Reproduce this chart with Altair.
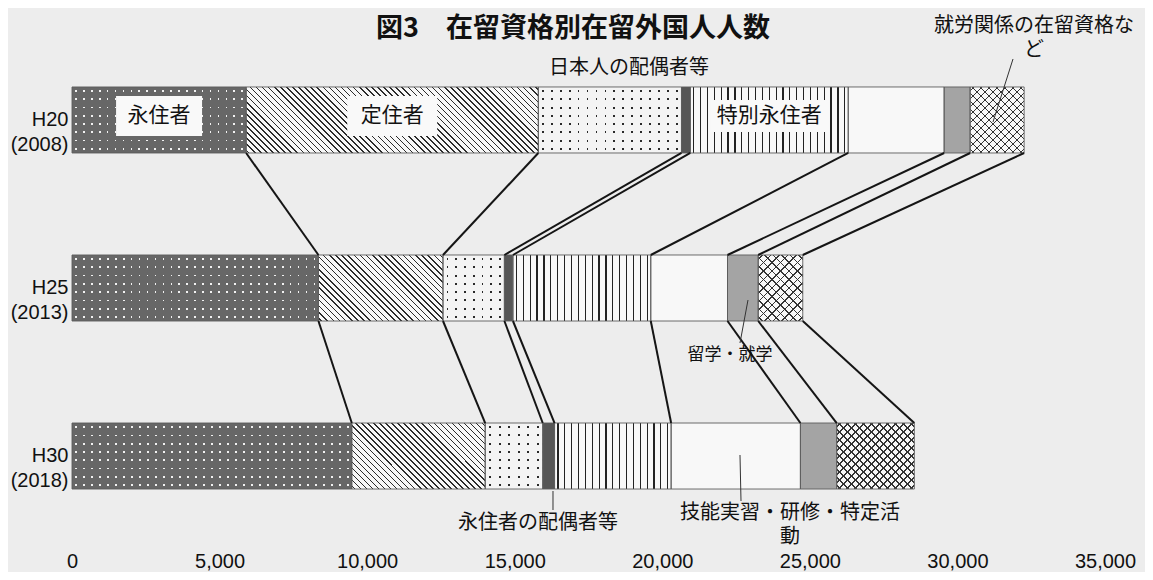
import math
import json
import altair as alt
import pandas as pd

# ---------------- data ----------------
years = ["H20 (2008)", "H25 (2013)", "H30 (2018)"]
categories = ["永住者", "定住者", "日本人の配偶者等", "永住者の配偶者等", "特別永住者",
              "技能実習・研修・特定活動", "留学・就学", "就労関係の在留資格など"]
h20_values = [5900, 9900, 4850, 300, 5350, 3250, 880, 1830]
h25_values = [8350, 4220, 2080, 290, 4670, 2600, 1040, 1510]
h30_values = [9480, 4520, 1950, 400, 3950, 4380, 1230, 2630]
x_tick_values = [0, 5000, 10000, 15000, 20000, 25000, 30000, 35000]
title_text = "図3　在留資格別在留外国人人数"

# ---------------- tables built from the arrays ----------------
rows = []
for yr, vals in zip(years, [h20_values, h25_values, h30_values]):
    acc = 0
    for cat, v in zip(categories, vals):
        rows.append({"year": yr, "cat": cat, "start": acc, "end": acc + v, "mid": acc + v / 2})
        acc += v
seg = pd.DataFrame(rows)

conn_rows = []
for a, b in zip(years[:-1], years[1:]):
    ea = seg[seg.year == a]["end"].tolist()
    eb = seg[seg.year == b]["end"].tolist()
    for xa, xb in zip(ea, eb):
        conn_rows.append({"src": a, "dst": b, "xa": xa, "xb": xb})
conn = pd.DataFrame(conn_rows)

# ---------------- layout / style ----------------
W, H = 1033, 436
XMAX = 35000
PXU = W / XMAX
BAND = 66
JP = "Noto Sans CJK JP"
NUMF = "Liberation Sans"
BG = "#ededed"
WHITE = "#f8f8f8"
CLEAR = "rgba(255,255,255,0)"

xs = alt.Scale(domain=[0, XMAX], nice=False, zero=False)
ys = alt.Scale(domain=years, paddingInner=0.607, paddingOuter=0.101)
ax_x = alt.Axis(values=x_tick_values, labelExpr="format(datum.value, ',')", title=None,
                domain=False, ticks=False, grid=False, labelPadding=45, labelFontSize=20,
                labelFont=NUMF, labelColor="#111", labelFlush=False)
ax_y = alt.Axis(title=None, domain=False, ticks=False, grid=False,
                labelExpr="split(datum.label, ' ')", labelPadding=4, labelFontSize=20,
                labelFont=NUMF, labelColor="#111", labelLineHeight=25,
                labelAlign="right", labelBaseline="middle")


def X(f):
    return alt.X(f"{f}:Q", scale=xs, axis=ax_x)


def Y(f="year"):
    return alt.Y(f"{f}:N", scale=ys, axis=ax_y, sort=years)


def XD(v):
    return alt.X(datum=v, type="quantitative", scale=xs, axis=ax_x)


def YD(v):
    return alt.Y(datum=v, type="nominal", scale=ys, axis=ax_y)


def stops_for(n, duty, on, off):
    out = [{"offset": 0, "color": off}]
    for k in range(n):
        a = round((k + 0.5 - duty / 2) / n, 5)
        b = round((k + 0.5 + duty / 2) / n, 5)
        out += [{"offset": a, "color": off}, {"offset": a, "color": on},
                {"offset": b, "color": on}, {"offset": b, "color": off}]
    out.append({"offset": 1, "color": off})
    return out


def grad(x1, y1, x2, y2, stops):
    return {"gradient": "linear", "x1": x1, "y1": y1, "x2": x2, "y2": y2, "stops": stops}


def hgrad(w, period, duty, on, off):
    n = max(1, round(w / period))
    return grad(0, 0, 1, 0, stops_for(n, duty, on, off))


def vgrad(h, period, duty, on, off):
    n = max(1, round(h / period))
    return grad(0, 0, 0, 1, stops_for(n, duty, on, off))


def diag(w, h, spacing, lw, color, back=True):
    k = (w + h) / (w * w + h * h)
    L = (w + h) / math.sqrt(2)
    n = max(1, round(L / spacing))
    st = stops_for(n, lw / (L / n), color, CLEAR)
    if back:
        return grad(0, 1, k * w, 1 - k * h, st)
    return grad(0, 0, k * w, k * h, st)


def expr_eq(field, value):
    return f"datum.{field} === {json.dumps(value, ensure_ascii=False)}"


def seg_layer(fill, cat, year=None):
    pred = expr_eq("cat", cat)
    if year is not None:
        pred += " && " + expr_eq("year", year)
    return (alt.Chart(seg).transform_filter(pred)
            .mark_bar(fill=fill, strokeWidth=0)
            .encode(x=X("start"), x2=alt.X2("end"), y=Y()))


def width_px(year, cat):
    r = seg[(seg.year == year) & (seg.cat == cat)].iloc[0]
    return (r["end"] - r["start"]) * PXU


# base colours (for dotted patterns this is the dot colour)
base_colors = ["#f2f2f2", WHITE, "#2a2a2a", "#565656", WHITE, WHITE, "#a4a4a4", WHITE]
base = alt.Chart(seg).mark_bar(strokeWidth=0).encode(
    x=X("start"), x2=alt.X2("end"), y=Y(),
    fill=alt.Fill("cat:N", scale=alt.Scale(domain=categories, range=base_colors), legend=None),
)
layers = [base]

# dotted patterns: background with transparent rows, then background with transparent columns
dots = {categories[0]: ("#676767", 8, 8, 1.7), categories[2]: ("#f4f4f4", 9, 8, 1.8)}
for cat, (bgc, px, py, gap) in dots.items():
    layers.append(seg_layer(vgrad(BAND, py, gap / py, CLEAR, bgc), cat))
    for yr in years:
        layers.append(seg_layer(hgrad(width_px(yr, cat), px, gap / px, CLEAR, bgc), cat, yr))

for yr in years:
    # 定住者: dense back-diagonal hatching
    w = width_px(yr, categories[1])
    layers.append(seg_layer(diag(w, BAND, 4.3, 1.1, "#2b2b2b", back=True), categories[1], yr))
    # 特別永住者: vertical lines
    w = width_px(yr, categories[4])
    layers.append(seg_layer(hgrad(w, 6.8, 1.2 / 6.8, "#222222", CLEAR), categories[4], yr))
    # 就労関係: cross-hatching
    w = width_px(yr, categories[7])
    layers.append(seg_layer(diag(w, BAND, 5.8, 1.1, "#333333", back=True), categories[7], yr))
    layers.append(seg_layer(diag(w, BAND, 5.8, 1.1, "#333333", back=False), categories[7], yr))

# outlines
layers.append(alt.Chart(seg).mark_bar(fill="transparent", stroke="#5c5c5c", strokeWidth=0.9).encode(
    x=X("start"), x2=alt.X2("end"), y=Y()))

# connectors between bars
layers.append(alt.Chart(conn).mark_rule(color="#151515", strokeWidth=2, yOffset=BAND / 2,
                                        y2Offset=-BAND / 2).encode(
    x=X("xa"), x2=alt.X2("xb"), y=Y("src"), y2=alt.Y2("dst")))

# white label boxes + labels inside the H20 bar
inner = [categories[0], categories[1], categories[4]]
box_paths = ["M-0.86,-0.4H0.86V0.4H-0.86Z", "M-0.9,-0.4H0.9V0.4H-0.9Z",
             "M-1.18,-0.32H1.18V0.32H-1.18Z"]
inner_pred = expr_eq("year", years[0]) + " && indexof(" + json.dumps(inner, ensure_ascii=False) + ", datum.cat) >= 0"
inner_src = alt.Chart(seg).transform_filter(inner_pred)
layers.append(inner_src.mark_point(filled=True, size=10000, opacity=1, fill="#f9f9f9",
                                   strokeWidth=0, yOffset=-4).encode(
    x=X("mid"), y=Y(),
    shape=alt.Shape("cat:N", scale=alt.Scale(domain=inner, range=box_paths), legend=None)))
layers.append(inner_src.mark_text(font=JP, fontSize=21, color="#111", yOffset=-4,
                                  baseline="middle").encode(
    x=X("mid"), y=Y(), text="cat:N"))

# annotations (dy = offset of the first text line from the bar centre)
one = pd.DataFrame({"k": [0]})


def ann_text(txt, year, xv, dy, size=20, lh=25, weight="normal"):
    return alt.Chart(one).mark_text(text=txt, font=JP, fontSize=size, color="#111",
                                    lineBreak="\n", lineHeight=lh, dy=dy, fontWeight=weight,
                                    baseline="middle").encode(x=XD(xv), y=YD(year))


def leader(year, xa, xb, oa, ob):
    return alt.Chart(one).mark_rule(color="#333", strokeWidth=1, yOffset=oa,
                                    y2Offset=ob).encode(
        x=XD(xa), x2=alt.X2(datum=xb), y=YD(year), y2=alt.Y2(datum=year))


layers += [
    ann_text(title_text, years[0], 16975, -91, size=27, weight="bold"),
    ann_text("日本人の配偶者等", years[0], 18872, -52),
    ann_text("就労関係の在留資格な\nど", years[0], 32594, -94, lh=24),
    leader(years[0], 31883, 31205, -61, 2),
    ann_text("留学・就学", years[1], 22294, 67, size=17),
    leader(years[1], 22633, 22904, 55, 12),
    ann_text("永住者の配偶者等", years[2], 15789, 67),
    leader(years[2], 16297, 16297, 35, 54),
    ann_text("技能実習・研修・特定活\n動", years[2], 24327, 57, lh=24),
    leader(years[2], 22633, 22667, -1, 45),
]

chart = alt.layer(*layers).properties(
    width=W, height=H,
    background=BG,
    padding={"left": 64, "top": 62, "right": 40, "bottom": 66},
    autosize=alt.AutoSizeParams(type="none"),
).configure_view(stroke=None)

chart.save("out.html", embed_options={"renderer": "svg", "actions": False})
